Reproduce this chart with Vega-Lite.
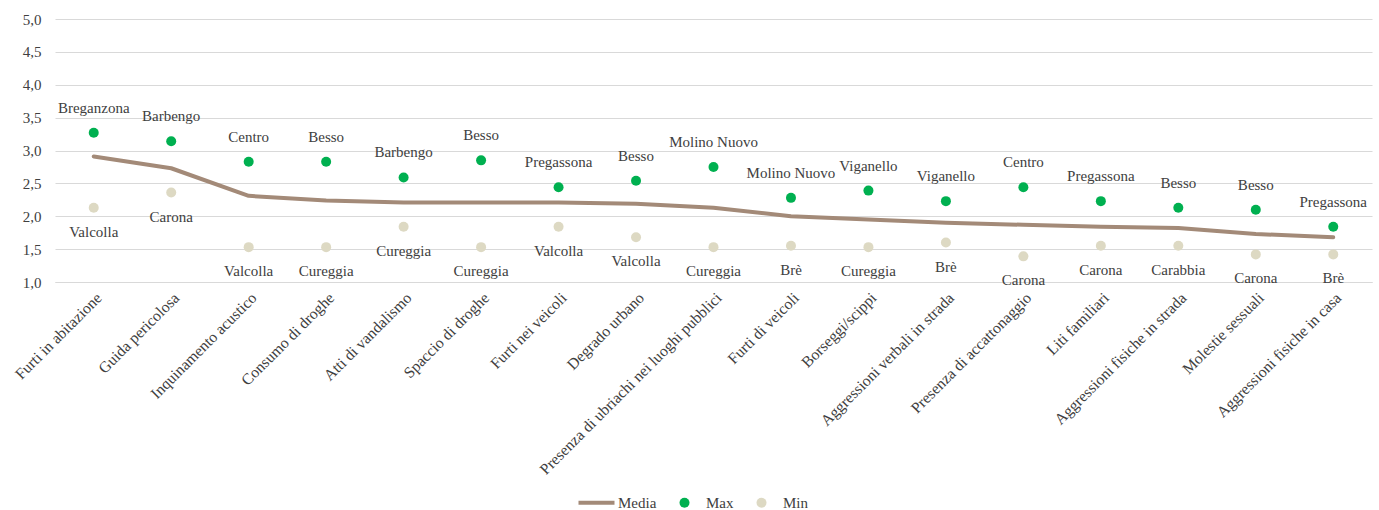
{
  "$schema": "https://vega.github.io/schema/vega-lite/v6.json",
  "width": 1317,
  "height": 263,
  "autosize": {"type": "none"},
  "padding": {"left": 55, "top": 19, "right": 7, "bottom": 228},
  "background": "white",
  "config": {
    "font": "Liberation Serif",
    "view": {"stroke": null},
    "axisY": {"tickCount": 12, "labelOverlap": false, "labelFlush": false}
  },
  "data": {
    "values": [
      {"cat": "Furti in abitazione", "Media": 2.91, "Max": 3.27, "Min": 2.13, "maxLoc": "Breganzona", "minLoc": "Valcolla"},
      {"cat": "Guida pericolosa", "Media": 2.73, "Max": 3.14, "Min": 2.36, "maxLoc": "Barbengo", "minLoc": "Carona"},
      {"cat": "Inquinamento acustico", "Media": 2.31, "Max": 2.83, "Min": 1.53, "maxLoc": "Centro", "minLoc": "Valcolla"},
      {"cat": "Consumo di droghe", "Media": 2.24, "Max": 2.83, "Min": 1.53, "maxLoc": "Besso", "minLoc": "Cureggia"},
      {"cat": "Atti di vandalismo", "Media": 2.21, "Max": 2.59, "Min": 1.84, "maxLoc": "Barbengo", "minLoc": "Cureggia"},
      {"cat": "Spaccio di droghe", "Media": 2.21, "Max": 2.85, "Min": 1.53, "maxLoc": "Besso", "minLoc": "Cureggia"},
      {"cat": "Furti nei veicoli", "Media": 2.21, "Max": 2.44, "Min": 1.84, "maxLoc": "Pregassona", "minLoc": "Valcolla"},
      {"cat": "Degrado urbano", "Media": 2.19, "Max": 2.54, "Min": 1.68, "maxLoc": "Besso", "minLoc": "Valcolla"},
      {"cat": "Presenza di ubriachi nei luoghi pubblici", "Media": 2.13, "Max": 2.75, "Min": 1.53, "maxLoc": "Molino Nuovo", "minLoc": "Cureggia"},
      {"cat": "Furti di veicoli", "Media": 2.0, "Max": 2.28, "Min": 1.55, "maxLoc": "Molino Nuovo", "minLoc": "Brè"},
      {"cat": "Borseggi/scippi", "Media": 1.95, "Max": 2.39, "Min": 1.53, "maxLoc": "Viganello", "minLoc": "Cureggia"},
      {"cat": "Aggressioni verbali in strada", "Media": 1.9, "Max": 2.23, "Min": 1.6, "maxLoc": "Viganello", "minLoc": "Brè"},
      {"cat": "Presenza di accattonaggio", "Media": 1.87, "Max": 2.44, "Min": 1.39, "maxLoc": "Centro", "minLoc": "Carona"},
      {"cat": "Liti familiari", "Media": 1.84, "Max": 2.23, "Min": 1.55, "maxLoc": "Pregassona", "minLoc": "Carona"},
      {"cat": "Aggressioni fisiche in strada", "Media": 1.82, "Max": 2.13, "Min": 1.55, "maxLoc": "Besso", "minLoc": "Carabbia"},
      {"cat": "Molestie sessuali", "Media": 1.73, "Max": 2.1, "Min": 1.42, "maxLoc": "Besso", "minLoc": "Carona"},
      {"cat": "Aggressioni fisiche in casa", "Media": 1.68, "Max": 1.84, "Min": 1.42, "maxLoc": "Pregassona", "minLoc": "Brè"}
    ]
  },
  "encoding": {
    "x": {
      "field": "cat",
      "type": "nominal",
      "sort": null,
      "title": null,
      "axis": {
        "labelAngle": -45,
        "labelFontSize": 15.7,
        "labelColor": "#404040",
        "labelPadding": 8,
        "labelLimit": 400,
        "labelOverlap": false,
        "ticks": false,
        "domain": true,
        "domainColor": "#D9D9D9",
        "domainWidth": 1,
        "grid": false
      }
    }
  },
  "layer": [
    {
      "mark": {"type": "line", "color": "#A38A78", "strokeWidth": 4, "strokeCap": "round", "strokeJoin": "round"},
      "encoding": {
        "y": {
          "field": "Media",
          "type": "quantitative",
          "scale": {"domain": [1, 5], "nice": false, "zero": false},
          "title": null,
          "axis": {
            "values": [1, 1.5, 2, 2.5, 3, 3.5, 4, 4.5, 5],
            "tickCount": 12,
            "labelExpr": "replace(format(datum.value, '.1f'), '.', ',')",
            "labelFontSize": 15,
            "labelColor": "#404040",
            "labelPadding": 14,
            "labelOverlap": false,
            "ticks": false,
            "domain": false,
            "grid": true,
            "gridColor": "#D9D9D9",
            "gridWidth": 1
          }
        }
      }
    },
    {
      "transform": [{"fold": ["Max", "Min"], "as": ["series", "value"]}],
      "mark": {"type": "point", "filled": true, "opacity": 1, "size": 100},
      "encoding": {
        "y": {"field": "value", "type": "quantitative"},
        "color": {
          "field": "series",
          "type": "nominal",
          "scale": {"domain": ["Media", "Max", "Min"], "range": ["#A38A78", "#00B050", "#DDD9C3"]},
          "legend": {
            "title": null,
            "orient": "none",
            "legendX": 534,
            "legendY": 476,
            "direction": "horizontal",
            "labelFontSize": 15,
            "labelColor": "#404040",
            "symbolSize": 100,
            "labelOffset": 14,
            "columnPadding": 20
          }
        },
        "shape": {
          "field": "series",
          "type": "nominal",
          "scale": {"domain": ["Media", "Max", "Min"], "range": ["M-3.6,-0.4H3.6V0.4H-3.6Z", "circle", "circle"]},
          "legend": {"title": null}
        }
      }
    },
    {
      "mark": {"type": "text", "dy": -25, "fontSize": 15, "color": "#404040"},
      "encoding": {
        "y": {"field": "Max", "type": "quantitative"},
        "text": {"field": "maxLoc"}
      }
    },
    {
      "mark": {"type": "text", "dy": 24, "fontSize": 15, "color": "#404040"},
      "encoding": {
        "y": {"field": "Min", "type": "quantitative"},
        "text": {"field": "minLoc"}
      }
    }
  ]
}
